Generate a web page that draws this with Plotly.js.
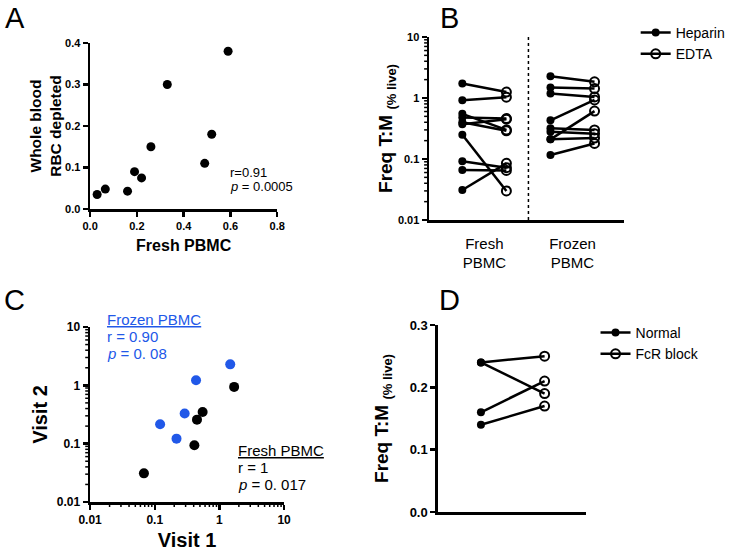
<!DOCTYPE html>
<html>
<head>
<meta charset="utf-8">
<script src="https://cdn.plot.ly/plotly-3.0.1.min.js"></script>
<style>html,body{margin:0;padding:0;background:#fff;} #plot{width:731px;height:551px;}</style>
</head>
<body>
<div id="plot"></div>
<script>
// ---------- Data ----------
// Panel A
const aFreshPBMC = [0.03, 0.065, 0.16, 0.19, 0.22, 0.26, 0.33, 0.49, 0.52, 0.59];
const aWholeBlood = [0.035, 0.048, 0.043, 0.09, 0.075, 0.15, 0.30, 0.11, 0.18, 0.38];

// Panel B
const bGroups = ['Fresh<br>PBMC', 'Frozen<br>PBMC'];
const bConditions = ['Heparin', 'EDTA'];
const bFreshHeparin = [1.73, 0.92, 0.55, 0.48, 0.40, 0.37, 0.25, 0.092, 0.066, 0.031];
const bFreshEDTA    = [1.25, 1.03, 0.30, 0.46, 0.29, 0.45, 0.030, 0.072, 0.065, 0.085];
const bFrozenHeparin = [2.27, 1.48, 1.18, 0.43, 0.32, 0.28, 0.21, 0.21, 0.116];
const bFrozenEDTA    = [1.84, 1.43, 1.04, 0.93, 0.30, 0.26, 0.22, 0.61, 0.18];

// Panel C
const cFreshVisit1 = [0.068, 0.41, 0.45, 0.55, 1.69];
const cFreshVisit2 = [0.031, 0.094, 0.258, 0.35, 0.94];
const cFrozenVisit1 = [0.121, 0.217, 0.29, 0.435, 1.47];
const cFrozenVisit2 = [0.215, 0.122, 0.33, 1.22, 2.29];

// Panel D
const dConditions = ['Normal', 'FcR block'];
const dNormal = [0.24, 0.24, 0.16, 0.14];
const dFcR    = [0.25, 0.19, 0.21, 0.17];

// Log-axis minor tick values (2..9 in each decade)
const minorLog = [];
for (let e = -2; e < 1; e++) for (let m = 2; m <= 9; m++) minorLog.push(m * Math.pow(10, e));

// ---------- Helpers ----------
const W = 731, H = 551;
const X = p => p / W;
const Y = p => 1 - p / H;
const FONT = 'Liberation Sans, Arial, Helvetica, sans-serif';
const BLUE = '#2158e8';

function pairs(left, right, xl, xr) {
  const xs = [], ys = [];
  left.forEach((v, i) => { xs.push(xl, xr, null); ys.push(v, right[i], null); });
  return {xs, ys};
}
function isolated(vals, x) {
  const xs = [], ys = [];
  vals.forEach(v => { xs.push(x, null); ys.push(v, null); });
  return {xs, ys};
}

const traces = [];
// Panel A
traces.push({x: aFreshPBMC, y: aWholeBlood, type: 'scatter', mode: 'markers',
  marker: {color: '#000', size: 9}, xaxis: 'x', yaxis: 'y', showlegend: false, cliponaxis: false});

// Panel B lines
const bf = pairs(bFreshHeparin, bFreshEDTA, 0, 1);
const bz = pairs(bFrozenHeparin, bFrozenEDTA, 2, 3);
traces.push({x: bf.xs.concat(bz.xs), y: bf.ys.concat(bz.ys), type: 'scatter', mode: 'lines',
  line: {color: '#000', width: 2.5}, xaxis: 'x2', yaxis: 'y2', showlegend: false, hoverinfo: 'skip'});
const bh1 = isolated(bFreshHeparin, 0), bh2 = isolated(bFrozenHeparin, 2);
traces.push({x: bh1.xs.concat(bh2.xs), y: bh1.ys.concat(bh2.ys), type: 'scatter', mode: 'lines+markers',
  name: bConditions[0], line: {color: '#000', width: 2.5}, marker: {color: '#000', size: 8, symbol: 'circle'},
  xaxis: 'x2', yaxis: 'y2', legend: 'legend', cliponaxis: false});
const be1 = isolated(bFreshEDTA, 1), be2 = isolated(bFrozenEDTA, 3);
traces.push({x: be1.xs.concat(be2.xs), y: be1.ys.concat(be2.ys), type: 'scatter', mode: 'lines+markers',
  name: bConditions[1], line: {color: '#000', width: 2.5},
  marker: {color: '#000', size: 9, symbol: 'circle-open', line: {width: 2, color: '#000'}},
  xaxis: 'x2', yaxis: 'y2', legend: 'legend', cliponaxis: false});

// Panel C
traces.push({x: cFrozenVisit1, y: cFrozenVisit2, type: 'scatter', mode: 'markers',
  marker: {color: BLUE, size: 10}, xaxis: 'x3', yaxis: 'y3', showlegend: false, cliponaxis: false});
traces.push({x: cFreshVisit1, y: cFreshVisit2, type: 'scatter', mode: 'markers',
  marker: {color: '#000', size: 10}, xaxis: 'x3', yaxis: 'y3', showlegend: false, cliponaxis: false});

// Panel D
const dp = pairs(dNormal, dFcR, 0, 1);
traces.push({x: dp.xs, y: dp.ys, type: 'scatter', mode: 'lines', line: {color: '#000', width: 2.5},
  xaxis: 'x4', yaxis: 'y4', showlegend: false, hoverinfo: 'skip'});
const dn = isolated(dNormal, 0);
traces.push({x: dn.xs, y: dn.ys, type: 'scatter', mode: 'lines+markers', name: dConditions[0],
  line: {color: '#000', width: 2.5}, marker: {color: '#000', size: 8}, xaxis: 'x4', yaxis: 'y4',
  legend: 'legend2', cliponaxis: false});
const df = isolated(dFcR, 1);
traces.push({x: df.xs, y: df.ys, type: 'scatter', mode: 'lines+markers', name: dConditions[1],
  line: {color: '#000', width: 2.5}, marker: {color: '#000', size: 9, symbol: 'circle-open', line: {width: 2, color: '#000'}},
  xaxis: 'x4', yaxis: 'y4', legend: 'legend2', cliponaxis: false});

const axBase = {showline: true, linewidth: 2.5, linecolor: '#000', zeroline: false, showgrid: false,
  ticks: 'outside', ticklen: 5, tickwidth: 2.5, tickcolor: '#000',
  tickfont: {family: FONT, size: 11, color: '#000', weight: 'bold'}, fixedrange: true};
const titleFont = (s) => ({family: FONT, size: s, color: '#000', weight: 'bold'});
const logAxis = {type: 'log', range: [-2, 1], tickmode: 'linear', tick0: 0, dtick: 1};

const TM = 'Freq T:M <sub><span style="font-size:13px">(% live)</span></sub>';

// axis pixel positions (domains)
const A = {l: 92, r: 283, t: 43, b: 209};
const B = {l: 438, r: 637, t: 37, b: 220};
const C = {l: 92, r: 290, t: 327, b: 502};
const D = {l: 447, r: 598, t: 325, b: 512};

const layout = {
  width: W, height: H, margin: {l: 0, r: 0, t: 0, b: 0},
  paper_bgcolor: '#fff', plot_bgcolor: 'rgba(0,0,0,0)',
  font: {family: FONT, color: '#000'},
  xaxis: Object.assign({}, axBase, {domain: [X(A.l), X(A.r)], range: [0, 0.8], anchor: 'y',
    tickvals: [0, 0.2, 0.4, 0.6, 0.8], ticktext: ['0.0', '0.2', '0.4', '0.6', '0.8'],
    title: {text: 'Fresh PBMC', font: titleFont(16), standoff: 9}}),
  yaxis: Object.assign({}, axBase, {domain: [Y(A.b), Y(A.t)], range: [0, 0.4], anchor: 'x',
    tickvals: [0, 0.1, 0.2, 0.3, 0.4], ticktext: ['0.0', '0.1', '0.2', '0.3', '0.4'],
    title: {text: 'Whole blood<br>RBC depleted', font: titleFont(15.5), standoff: 0}}),
  xaxis2: Object.assign({}, axBase, {domain: [X(B.l), X(B.r)], range: [-0.756, 3.667], anchor: 'y2',
    tickvals: [0.5, 2.5], ticktext: bGroups, ticks: '', ticklabelstandoff: 8,
    tickfont: {family: FONT, size: 15, color: '#000'}}),
  yaxis2: Object.assign({}, axBase, logAxis, {domain: [Y(B.b), Y(B.t)], anchor: 'x2',
    title: {text: TM, font: titleFont(19), standoff: 0}}),
  xaxis3: Object.assign({}, axBase, logAxis, {domain: [X(C.l), X(C.r)], anchor: 'y3',
    tickfont: {family: FONT, size: 12, color: '#000', weight: 'bold'},
    title: {text: 'Visit 1', font: titleFont(20), standoff: 7}}),
  yaxis3: Object.assign({}, axBase, logAxis, {domain: [Y(C.b), Y(C.t)], anchor: 'x3',
    tickfont: {family: FONT, size: 12, color: '#000', weight: 'bold'},
    title: {text: 'Visit 2', font: titleFont(20), standoff: 4}}),
  xaxis4: Object.assign({}, axBase, {domain: [X(D.l), X(D.r)], range: [-0.677, 1.646], anchor: 'y4',
    ticks: '', showticklabels: false}),
  yaxis4: Object.assign({}, axBase, {domain: [Y(D.b), Y(D.t)], range: [0, 0.3], anchor: 'x4',
    tickvals: [0, 0.1, 0.2, 0.3], ticktext: ['0.0', '0.1', '0.2', '0.3'],
    tickfont: {family: FONT, size: 13, color: '#000', weight: 'bold'},
    title: {text: TM, font: titleFont(19), standoff: 16}}),
  legend: {x: X(649), y: Y(17), xanchor: 'left', yanchor: 'top', bgcolor: 'rgba(0,0,0,0)',
    font: {family: FONT, size: 14, color: '#000'}},
  legend2: {x: X(608), y: Y(317), xanchor: 'left', yanchor: 'top', bgcolor: 'rgba(0,0,0,0)',
    font: {family: FONT, size: 14, color: '#000'}},
  shapes: [
    {type: 'line', xref: 'x2', yref: 'paper', x0: 1.5, x1: 1.5, y0: Y(B.b), y1: Y(B.t - 2),
     line: {color: '#000', width: 1.5, dash: 'dot'}}
  ],
  annotations: []
};

// Minor log ticks (drawn outside the axis lines); shape coordinates on log axes are data values here
const minorLine = {color: '#000', width: 1.5};
const half = 1, mlen = 4;
minorLog.forEach(v => {
  layout.shapes.push({type: 'line', layer: 'above', xref: 'paper', yref: 'y2', x0: X(B.l - half - mlen), x1: X(B.l - half), y0: v, y1: v, line: minorLine});
  layout.shapes.push({type: 'line', layer: 'above', xref: 'paper', yref: 'y3', x0: X(C.l - half - mlen), x1: X(C.l - half), y0: v, y1: v, line: minorLine});
  layout.shapes.push({type: 'line', layer: 'above', xref: 'x3', yref: 'paper', x0: v, x1: v, y0: Y(C.b + half), y1: Y(C.b + half + mlen), line: minorLine});
});

const ann = (text, px, py, size, color, xanchor) => ({text, x: X(px), y: Y(py), xref: 'paper', yref: 'paper',
  xanchor: xanchor || 'left', yanchor: 'middle', showarrow: false, font: {family: FONT, size, color: color || '#000'}});
layout.annotations.push(
  ann('A', 15, 18, 29, '#000', 'center'),
  ann('B', 459, 18, 29, '#000', 'center'),
  ann('C', 15, 300, 29, '#000', 'center'),
  ann('D', 459, 300, 29, '#000', 'center'),
  ann('r=0.91', 233, 172, 13),
  ann('<i>p</i> = 0.0005', 233, 186, 13),
  ann('<u>Frozen PBMC</u>', 107, 319, 15, BLUE),
  ann('r = 0.90', 107, 336, 15, BLUE),
  ann('<i>p</i> = 0. 08', 107, 353, 15, BLUE),
  ann('<u>Fresh PBMC</u>', 241, 450, 15),
  ann('r = 1', 241, 467, 15),
  ann('<i>p</i> = 0. 017', 241, 484, 15)
);

Plotly.newPlot('plot', traces, layout, {staticPlot: true, displayModeBar: false});
</script>
</body>
</html>
